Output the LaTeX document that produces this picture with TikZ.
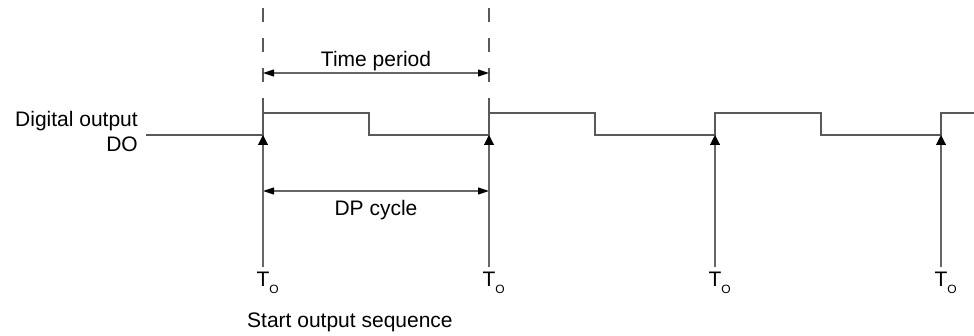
\documentclass[tikz,border=0pt]{standalone}
\usepackage{fontspec}
\setmainfont{Liberation Sans}
\usetikzlibrary{arrows.meta}
\begin{document}
\begin{tikzpicture}[x=1pt,y=-1pt,
  lbl/.style={font=\fontsize{21}{25}\selectfont, inner sep=0pt},
  sig/.style={draw=black!65, line width=1.2pt},
  dimline/.style={draw=black!60, line width=1.1pt, {Triangle[length=11pt,width=7pt,color=black]}-{Triangle[length=11pt,width=7pt,color=black]}},
  uparrow/.style={draw=black!60, line width=1.1pt, -{Triangle[length=10pt,width=10pt,color=black]}},
  dashline/.style={draw=black!65, line width=1.1pt, dash pattern=on 14pt off 16pt}]
\useasboundingbox (0,0) rectangle (974,336);

% waveform
\draw[sig] (146,135) -- (263,135) -- (263,113) -- (369,113) -- (369,135) -- (489,135)
  -- (489,113) -- (595,113) -- (595,135) -- (715,135) -- (715,113) -- (821,113)
  -- (821,135) -- (941,135) -- (941,113) -- (974,113);

% dashed markers
\coordinate (d1a) at (263,8);  \coordinate (d1b) at (263,113);
\coordinate (d2a) at (489,8);  \coordinate (d2b) at (489,113);
\draw[dashline] (d1a) -- (d1b);
\draw[dashline] (d2a) -- (d2b);

% time period
\coordinate (tp1) at (263,73); \coordinate (tp2) at (489,73);
\draw[dimline] (tp1) -- (tp2);
\node[lbl, anchor=base] (tptext) at (376,67) {Time period};

% DP cycle
\coordinate (dp1) at (263,191); \coordinate (dp2) at (489,191);
\draw[dimline] (dp1) -- (dp2);
\node[lbl, anchor=base] (dptext) at (376,216) {DP cycle};

% labels left
\node[lbl, anchor=base east] (do1) at (138,127) {Digital output};
\node[lbl, anchor=base east] (do2) at (138,152) {DO};

% start arrows
\foreach \i/\x in {1/263, 2/489, 3/715, 4/941} {
  \coordinate (t\i) at (\x,135);
  \coordinate (b\i) at (\x,267);
  \draw[uparrow] (b\i) -- (t\i);
  \node[lbl, anchor=base] (to\i) at (\x,287) {T\rlap{\raisebox{-6.5pt}{\fontsize{12}{12}\selectfont O}}};
}

\node[lbl, anchor=base west] (start) at (247,328) {Start output sequence};
\end{tikzpicture}
\end{document}
